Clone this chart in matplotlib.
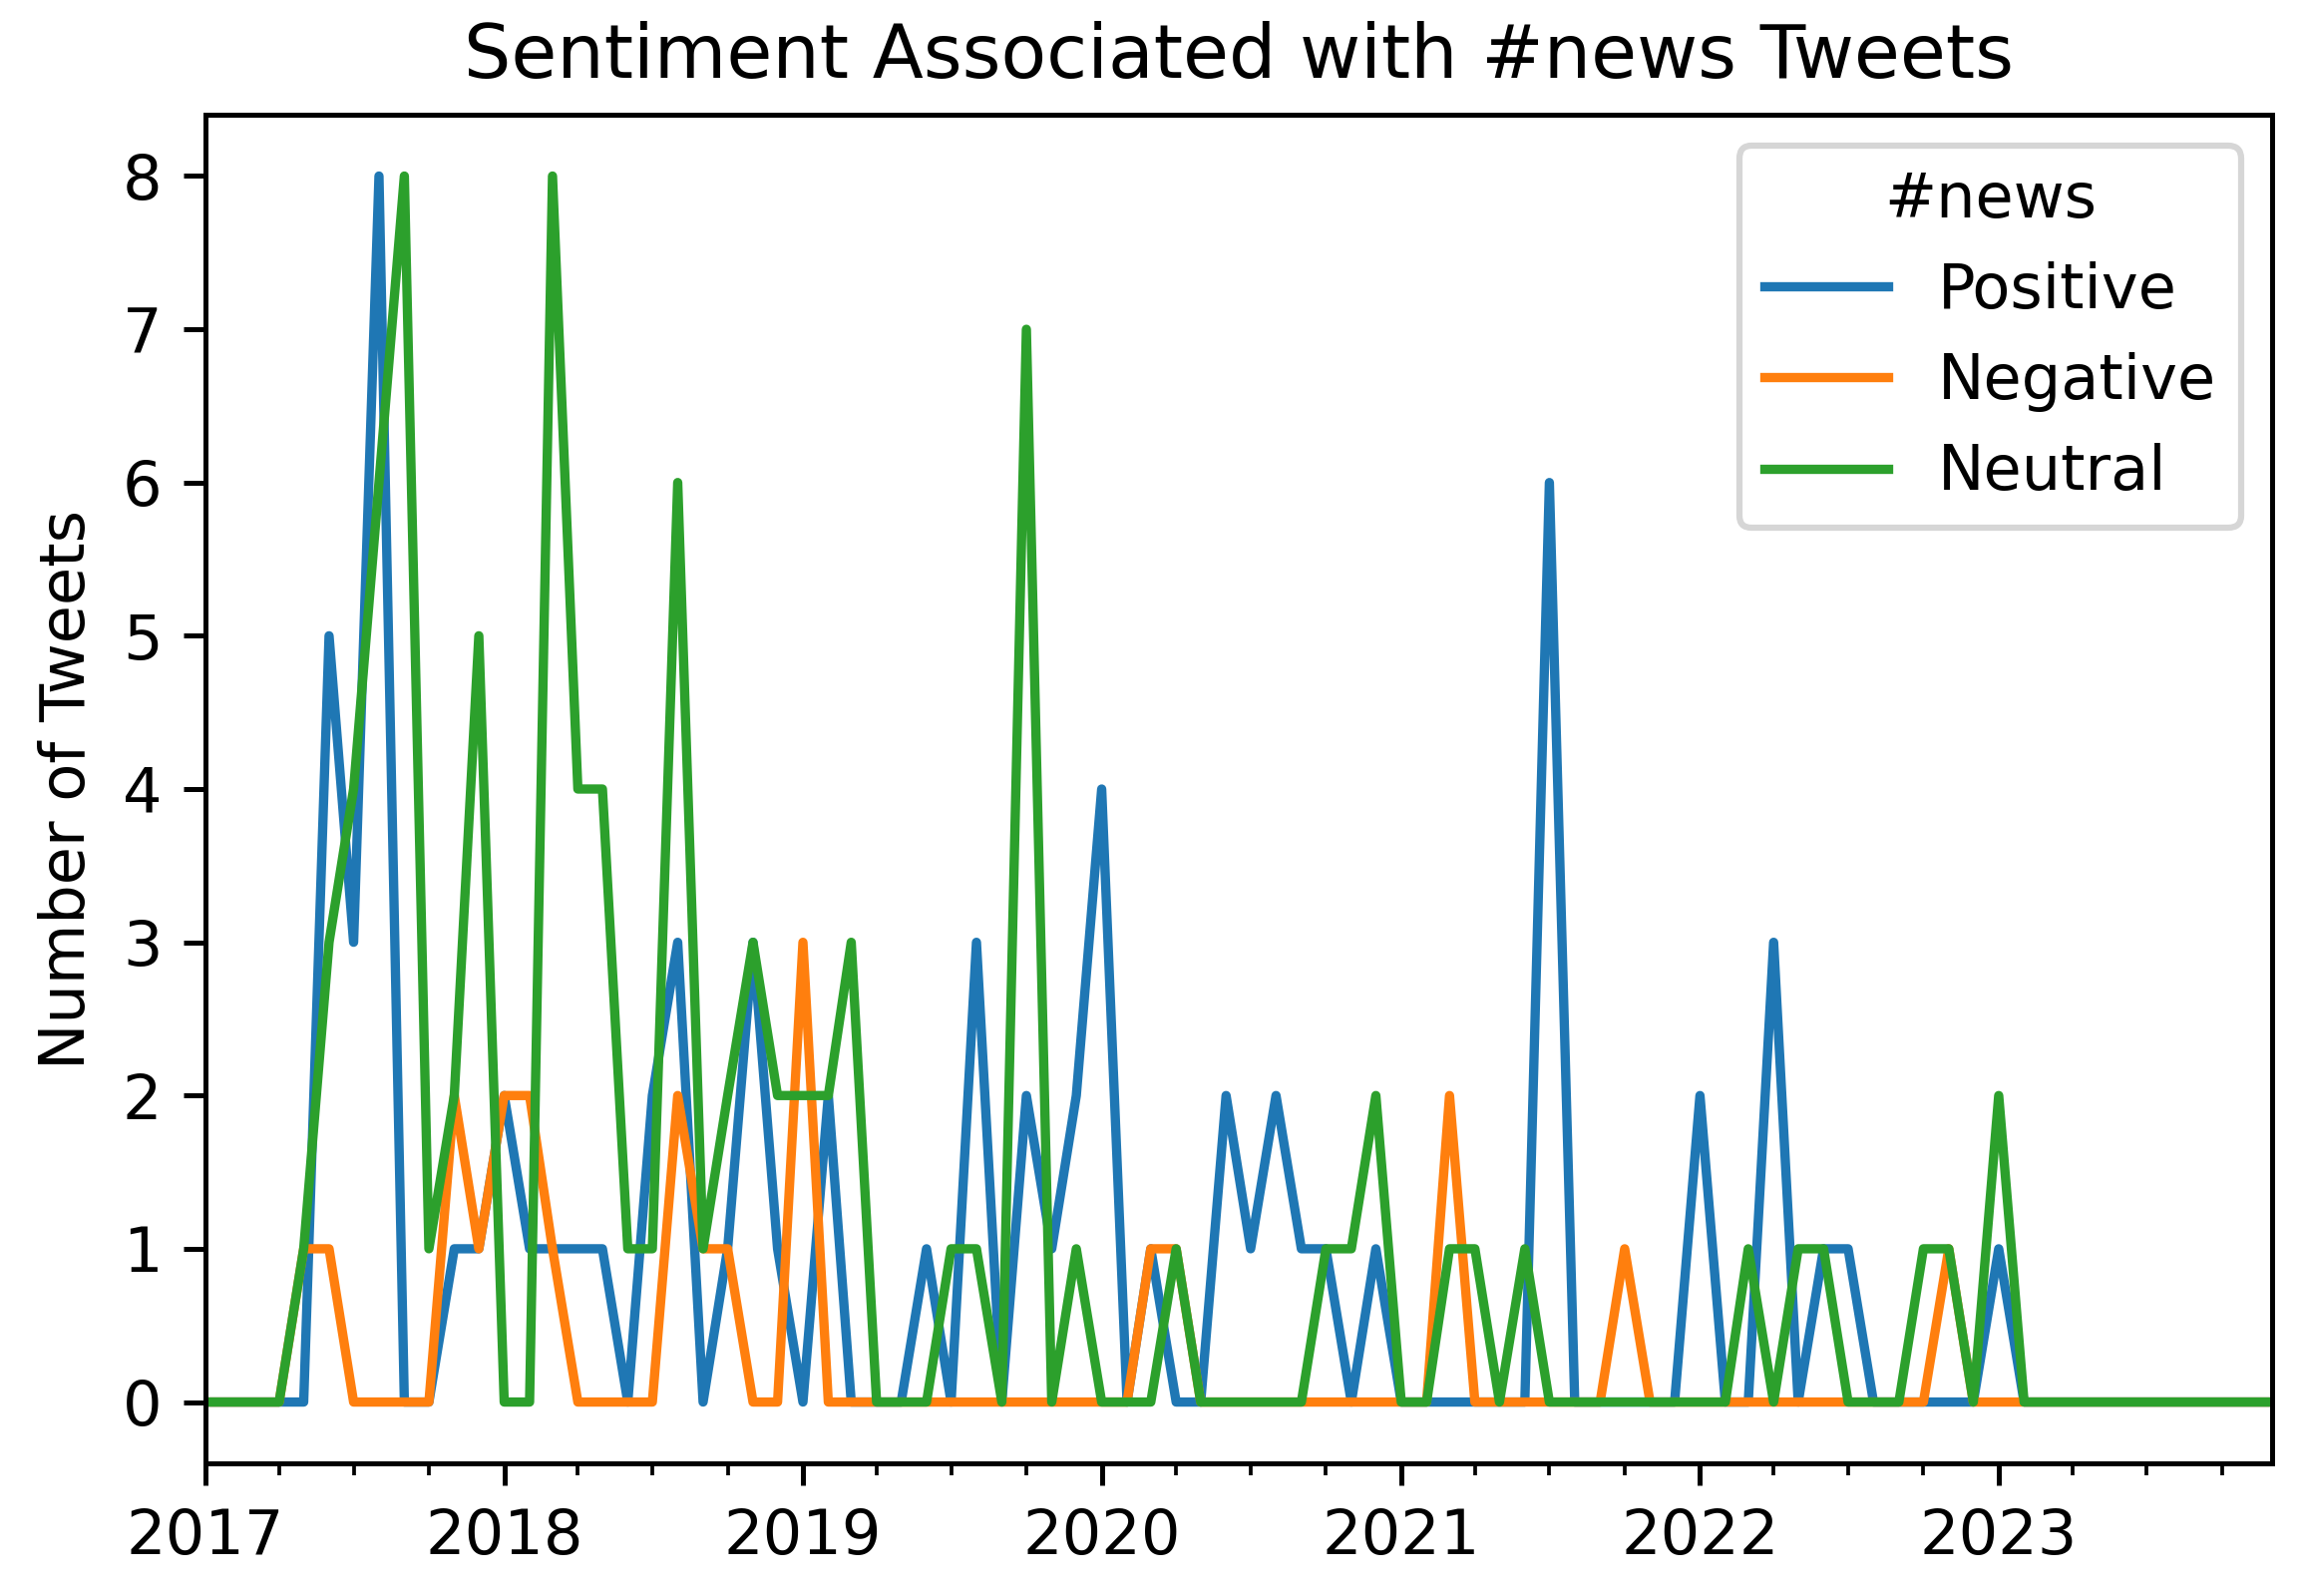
# import matplotlib for plotting, pandas for the monthly dates
import matplotlib.pyplot as plt
import matplotlib.dates as mdates
from matplotlib.ticker import MultipleLocator
import pandas as pd

# monthly tweet counts, Jan 2017 .. Dec 2023
positive = [0, 0, 0, 0, 0, 5, 3, 8, 0, 0, 1, 1,
            2, 1, 1, 1, 1, 0, 2, 3, 0, 1, 3, 1,
            0, 2, 0, 0, 0, 1, 0, 3, 0, 2, 1, 2,
            4, 0, 1, 0, 0, 2, 1, 2, 1, 1, 0, 1,
            0, 0, 0, 0, 0, 0, 6, 0, 0, 0, 0, 0,
            2, 0, 0, 3, 0, 1, 1, 0, 0, 0, 0, 0,
            1, 0, 0, 0, 0, 0, 0, 0, 0, 0, 0, 0]
negative = [0, 0, 0, 0, 1, 1, 0, 0, 0, 0, 2, 1,
            2, 2, 1, 0, 0, 0, 0, 2, 1, 1, 0, 0,
            3, 0, 0, 0, 0, 0, 0, 0, 0, 0, 0, 0,
            0, 0, 1, 1, 0, 0, 0, 0, 0, 0, 0, 0,
            0, 0, 2, 0, 0, 0, 0, 0, 0, 1, 0, 0,
            0, 0, 0, 0, 0, 0, 0, 0, 0, 0, 1, 0,
            0, 0, 0, 0, 0, 0, 0, 0, 0, 0, 0, 0]
neutral = [0, 0, 0, 0, 1, 3, 4, 6, 8, 1, 2, 5,
           0, 0, 8, 4, 4, 1, 1, 6, 1, 2, 3, 2,
           2, 2, 3, 0, 0, 0, 1, 1, 0, 7, 0, 1,
           0, 0, 0, 1, 0, 0, 0, 0, 0, 1, 1, 2,
           0, 0, 1, 1, 0, 1, 0, 0, 0, 0, 0, 0,
           0, 0, 1, 0, 1, 1, 0, 0, 0, 1, 1, 0,
           2, 0, 0, 0, 0, 0, 0, 0, 0, 0, 0, 0]

months = pd.date_range('2017-01-01', periods=len(positive), freq='MS')
labels = ['Positive', 'Negative', 'Neutral']

dpi = 448
fig = plt.figure(figsize=(2306 / dpi, 1600 / dpi), dpi=dpi)
ax = fig.add_axes([206 / 2306, 1 - 1467 / 1600, (2278 - 206) / 2306, (1467 - 115) / 1600])

# one line per sentiment
for series, name in zip([positive, negative, neutral], labels):
    ax.plot(months, series, label=name)

ax.set_xlim(months[0], months[-1])
ax.xaxis.set_major_locator(mdates.YearLocator())
ax.xaxis.set_major_formatter(mdates.DateFormatter('%Y'))
ax.xaxis.set_minor_locator(mdates.MonthLocator(bymonth=[1, 4, 7, 10]))
ax.yaxis.set_major_locator(MultipleLocator(1))

ax.set_ylabel('Number of Tweets')
ax.set_title('Sentiment Associated with #news Tweets', fontsize=12)
ax.legend(title='#news', loc='upper right')

fig.savefig('out.png', dpi=dpi)
